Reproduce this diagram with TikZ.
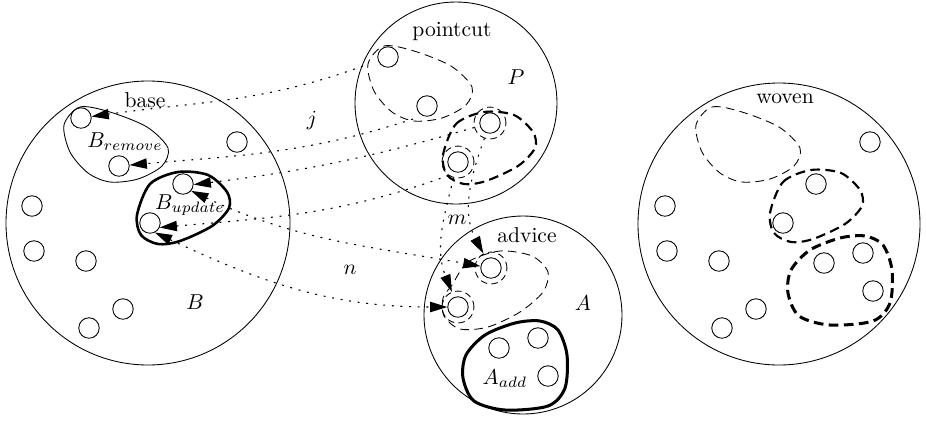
\documentclass[tikz,border=0pt]{standalone}
\usepackage{amsmath}
\usepackage{tikz}
\usetikzlibrary{arrows.meta}

\def\remshape{plot[smooth cycle] coordinates {(64,-125) (80,-107) (110,-112) (147,-127) (168,-148) (162,-166) (138,-179) (110,-182) (88,-173) (70,-152)}}
\def\updshape{plot[smooth cycle] coordinates {(137,-215) (150,-184) (178,-172) (208,-175) (227,-192) (229,-208) (212,-226) (180,-241) (158,-244) (141,-235)}}
\def\addshape{plot[smooth cycle] coordinates {(463,-378) (466,-355) (485,-335) (515,-323) (540,-321) (558,-330) (567,-355) (565,-388) (548,-406) (505,-410) (474,-401)}}

\begin{document}
\begin{tikzpicture}[x=0.464pt,y=0.464pt,>={Triangle[length=8pt,width=4.8pt]},thin]
  \tikzstyle{elem}=[circle,draw,minimum size=9.5pt,inner sep=0pt]
  \tikzstyle{halo}=[circle,draw,dash pattern=on 3pt off 2pt,minimum size=14.8pt,inner sep=0pt]
  \tikzstyle{link}=[line width=0.5pt,dash pattern=on 0.9pt off 3.1pt]
  \tikzstyle{thinset}=[dash pattern=on 4pt off 2.5pt]
  \tikzstyle{midset}=[line width=1pt,dash pattern=on 4.5pt off 2.5pt]
  \tikzstyle{fatset}=[line width=1.4pt,dash pattern=on 4.5pt off 2.5pt]

  \useasboundingbox (0,0) rectangle (927,-421);

  % the four sets
  \draw (148,-223) circle (142);
  \draw (456,-103) circle (101);
  \draw (523,-315) circle (99);
  \draw (779,-224) circle (141);

  % subsets
  \draw \remshape;
  \draw[very thick] \updshape;
  \draw[thinset,shift={(304,61)}] \remshape;
  \draw[midset,shift={(306,60)}] \updshape;
  \draw[thinset] plot[smooth cycle] coordinates {(452,-285) (468,-262) (500,-251) (532,-256) (548,-272) (543,-292) (520,-312) (488,-327) (460,-329) (444,-316) (443,-298)};
  \draw[line width=1.4pt] \addshape;
  \draw[thinset,shift={(632,0)}] \remshape;
  \draw[midset,shift={(633,2)}] \updshape;
  \draw[fatset,shift={(325,85)}] \addshape;

  % base
  \node[elem] (c1)  at (81,-118)  {};
  \node[elem] (c2)  at (119,-166) {};
  \node[elem] (c3)  at (237,-142) {};
  \node[elem] (c4)  at (183,-184) {};
  \node[elem] (c5)  at (150,-223) {};
  \node[elem] (c6)  at (32,-206)  {};
  \node[elem] (c7)  at (34,-251)  {};
  \node[elem] (c8)  at (86,-261)  {};
  \node[elem] (c9)  at (123,-309) {};
  \node[elem] (c10) at (89,-328)  {};

  % pointcut
  \node[elem] (p1) at (388,-57)  {};
  \node[elem] (p2) at (427,-106) {};
  \node[elem] (p3) at (490,-123) {};
  \node[elem] (p4) at (458,-162) {};
  \node[halo] (hp3) at (p3) {};
  \node[halo] (hp4) at (p4) {};

  % advice
  \node[elem] (a1) at (491,-268) {};
  \node[elem] (a2) at (458,-307) {};
  \node[elem] (a3) at (499,-348) {};
  \node[elem] (a4) at (538,-338) {};
  \node[elem] (a5) at (548,-376) {};
  \node[halo] (ha1) at (a1) {};
  \node[halo] (ha2) at (a2) {};

  % woven
  \node[elem] (w3)  at (870,-142) {};
  \node[elem] (w4)  at (816,-184) {};
  \node[elem] (w5)  at (783,-223) {};
  \node[elem] (w6)  at (665,-206) {};
  \node[elem] (w7)  at (667,-251) {};
  \node[elem] (w8)  at (719,-261) {};
  \node[elem] (w9)  at (756,-309) {};
  \node[elem] (w10) at (722,-328) {};
  \node[elem] (w11) at (824,-263) {};
  \node[elem] (w12) at (863,-253) {};
  \node[elem] (w13) at (873,-291) {};

  % labels
  \node (lbase)   at (145,-100) {base};
  \node (lpoint)  at (452,-32)  {pointcut};
  \node (ladvice) at (527,-235) {advice};
  \node (lwoven)  at (785,-99)  {woven};
  \node (lB)   at (195,-302) {$B$};
  \node (lP)   at (516,-77)  {$P$};
  \node (lA)   at (583,-303) {$A$};
  \node (lrem) at (125,-142) {$B_{remove}$};
  \node (lupd) at (190,-205) {$B_{update}$};
  \node (ladd) at (505,-379) {$A_{add}$};
  \node (lj) at (312,-120) {$j$};
  \node (lm) at (457,-220) {$m$};
  \node (ln) at (350,-270) {$n$};

  \coordinate (j1) at (363,-66);
  \coordinate (j2) at (413,-119);

  \path[->,link]
    (j1) edge[out=200,in=8] (c1)
    (j2) edge[out=198,in=5] (c2)
    (hp3) edge[out=196,in=7] (c4.-3)
    (hp4.235) edge[out=200,in=5] (c5.-25)
    (hp3) edge[out=250,in=118] (ha1)
    (hp4) edge[out=255,in=112] (ha2)
    (c4.-40) edge[<->,out=-25,in=170] (a1)
    (c5.-63) edge[<->,out=-25,in=180] (a2);

\end{tikzpicture}
\end{document}
